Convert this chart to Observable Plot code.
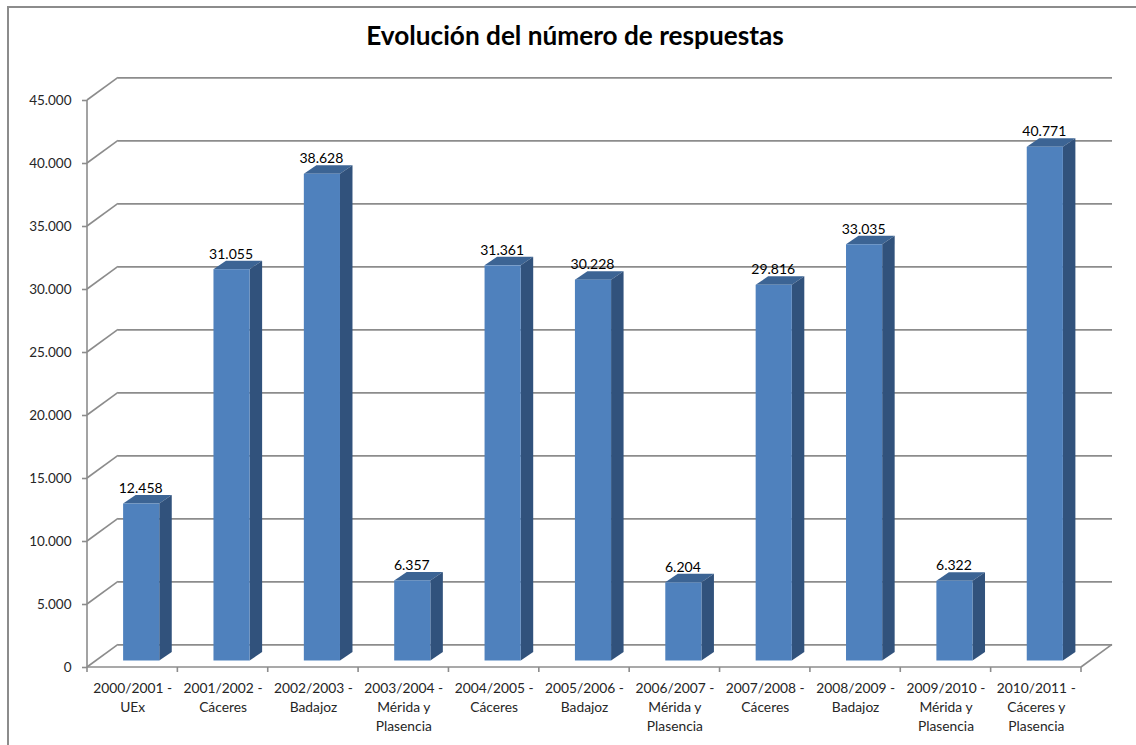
<!DOCTYPE html>
<html lang="es">
<head>
<meta charset="utf-8">
<title>Evolución del número de respuestas</title>
<script src="https://cdn.jsdelivr.net/npm/d3@7"></script>
<script src="https://cdn.jsdelivr.net/npm/@observablehq/plot@0.6"></script>
<style>
  html, body { margin: 0; padding: 0; background: #fff; overflow: hidden; }
  #chart { position: relative; width: 1136px; height: 745px; background: #fff; }
  #chart svg { position: absolute; left: 0; top: 0; max-width: none; background: transparent; }
  #frame { position: absolute; left: 7px; top: 6px; right: 0; bottom: 0; border-left: 2px solid #8c8c8c; border-top: 2px solid #8c8c8c; }
  #title { position: absolute; left: 275px; width: 600px; top: 19px; text-align: center;
           font: bold 26.2px Lato, "Open Sans", sans-serif; color: #000; white-space: nowrap; }
</style>
</head>
<body>
<div id="chart">
  <div id="frame"></div>
  <div id="title">Evolución del número de respuestas</div>
</div>
<script>
const years = ["2000/2001 -", "2001/2002 -", "2002/2003 -", "2003/2004 -", "2004/2005 -", "2005/2006 -", "2006/2007 -", "2007/2008 -", "2008/2009 -", "2009/2010 -", "2010/2011 -"];
const campuses = ["UEx", "Cáceres", "Badajoz", "Mérida y\nPlasencia", "Cáceres", "Badajoz", "Mérida y\nPlasencia", "Cáceres", "Badajoz", "Mérida y\nPlasencia", "Cáceres y\nPlasencia"];
const responses = [12458, 31055, 38628, 6357, 31361, 30228, 6204, 29816, 33035, 6322, 40771];
const yTicks = [0, 5000, 10000, 15000, 20000, 25000, 30000, 35000, 40000, 45000];

const categories = years.map((y, i) => `${y}\n${campuses[i]}`);
const rows = categories.map((category, i) => ({category, value: responses[i]}));

const spanish = d3.formatLocale({decimal: ",", thousands: ".", grouping: [3], currency: ["", ""]});
const fmt = spanish.format(",d");

const FONT = "Lato, 'Open Sans', sans-serif";
const GRID = "#8c8c8c";
const FRONT = "#4f81bd", TOP = "#3c6494", SIDE = "#31527c";
// oblique projection of the chart: wall depth and bar depth, in pixels
const wallX = 31, wallY = -22.6;
const barX = 9, barY = -6.5, barDepthX = 12.5, barDepthY = -8.5;

// gridlines on the left wall, floor edges and axis tick marks, placed by the scales
function walls(index, {x, y}, values, {width, height, marginLeft, marginRight}) {
  const g = d3.create("svg:g").attr("fill", "none").attr("stroke", GRID).attr("stroke-width", 1.6);
  const x0 = marginLeft, x1 = width - marginRight, y0 = y(0);
  const step = x.step();
  for (const t of yTicks) {
    g.append("line").attr("x1", x0).attr("x2", x0 + wallX).attr("y1", y(t)).attr("y2", y(t) + wallY);
  }
  g.append("line").attr("x1", x1).attr("x2", x1 + wallX).attr("y1", y0).attr("y2", y0 + wallY);
  g.append("line").attr("x1", x0).attr("x2", x0).attr("y1", y(45000)).attr("y2", y0);
  g.append("line").attr("x1", x0).attr("x2", x1).attr("y1", y0).attr("y2", y0);
  categories.concat([null]).forEach((c, i) => {
    const xt = x0 + i * step;
    g.append("line").attr("x1", xt).attr("x2", xt).attr("y1", y0).attr("y2", y0 + 5);
  });
  return g.node();
}

// top and side faces of each bar, derived from the same scales as the front face
function barFaces(index, {x, y}) {
  const g = d3.create("svg:g");
  const w = x.bandwidth();
  rows.forEach(d => {
    const l = x(d.category) + barX, r = l + w;
    const t = y(d.value) + barY, b = y(0) + barY;
    g.append("polygon").attr("fill", TOP)
      .attr("points", [[l, t], [r, t], [r + barDepthX, t + barDepthY], [l + barDepthX, t + barDepthY]].join(" "));
    g.append("polygon").attr("fill", SIDE)
      .attr("points", [[r, t], [r + barDepthX, t + barDepthY], [r + barDepthX, b + barDepthY], [r, b]].join(" "));
  });
  return g.node();
}

const plot = Plot.plot({
  width: 1136,
  height: 745,
  marginLeft: 87,
  marginRight: 55,
  marginTop: 100,
  marginBottom: 78,
  style: {background: "transparent", fontFamily: FONT},
  x: {type: "band", domain: categories, paddingInner: 0.6, paddingOuter: 0.3, align: 0.5, round: false, label: null},
  y: {domain: [0, 45000], label: null},
  marks: [
    Plot.ruleY(yTicks, {y: d => d, stroke: GRID, strokeWidth: 1.6, dx: wallX, dy: wallY}),
    walls,
    Plot.axisY({
      ticks: yTicks, tickFormat: fmt, tickSize: 5, tickPadding: 11, label: null,
      stroke: GRID, strokeWidth: 1.6, fill: "#262626", fontSize: 13.5
    }),
    Plot.axisX({
      tickSize: 0, tickPadding: 12, label: null, fill: "#262626", fontSize: 13.8,
      lineHeight: 1.37, lineAnchor: "top"
    }),
    barFaces,
    Plot.barY(rows, {x: "category", y: "value", fill: FRONT, dx: barX, dy: barY}),
    Plot.text(rows, {
      x: "category", y: "value", text: d => fmt(d.value),
      dx: barX - 1, dy: -22, fill: "#000", fontSize: 14, stroke: "none"
    })
  ]
});
document.getElementById("chart").insertBefore(plot, document.getElementById("title"));
</script>
</body>
</html>
